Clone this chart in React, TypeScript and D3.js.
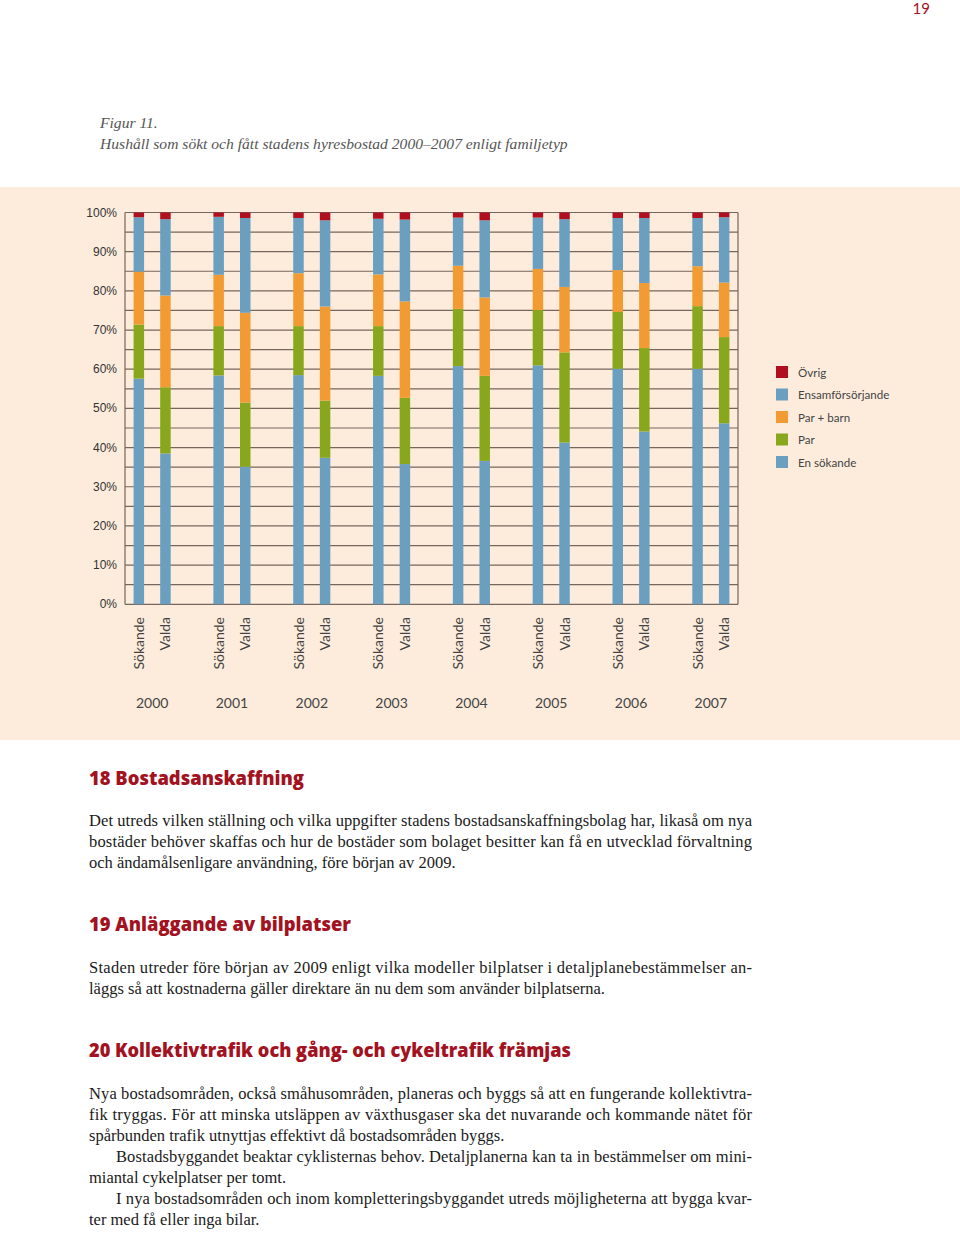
import React from 'react';
import * as d3 from 'd3';

// Data (per cent of households)
const years = ['2000', '2001', '2002', '2003', '2004', '2005', '2006', '2007'];
const groups = ['Sökande', 'Valda'];

// order per bar: 2000 Sökande, 2000 Valda, 2001 Sökande, ...
const enSokande = [57.6, 38.5, 58.4, 35.1, 58.5, 37.4, 58.3, 35.8, 60.8, 36.6, 61.0, 41.3, 60.1, 44.1, 60.1, 46.2];
const par = [13.8, 16.9, 12.6, 16.4, 12.5, 14.6, 12.7, 16.9, 14.6, 21.7, 14.1, 23.0, 14.5, 21.3, 16.0, 22.0];
const parBarn = [13.5, 23.4, 13.1, 22.9, 13.5, 24.0, 13.2, 24.6, 11.0, 20.0, 10.5, 16.7, 10.7, 16.6, 10.2, 13.9];
const ensam = [13.9, 19.5, 14.8, 24.2, 14.1, 22.0, 14.2, 20.9, 12.3, 19.7, 13.1, 17.3, 13.3, 16.6, 12.3, 16.7];
const ovrig = [1.2, 1.7, 1.1, 1.4, 1.4, 2.0, 1.6, 1.8, 1.3, 2.0, 1.3, 1.7, 1.4, 1.4, 1.4, 1.2];

const seriesKeys = ['enSokande', 'par', 'parBarn', 'ensam', 'ovrig'];
const seriesColors = ['#6b9fbf', '#88a71c', '#f29b32', '#6b9fbf', '#b00f1f'];

// legend, top to bottom
const legendLabels = ['Övrig', 'Ensamförsörjande', 'Par + barn', 'Par', 'En sökande'];
const legendColors = ['#b00f1f', '#6b9fbf', '#f29b32', '#88a71c', '#6b9fbf'];

const yTicks = [0, 10, 20, 30, 40, 50, 60, 70, 80, 90, 100];
const gridTicks = d3.range(0, 101, 5);

const RED = '#a3121f';
const serif = '"Liberation Serif", "Times New Roman", serif';
const sans = 'Lato, "Open Sans", sans-serif';

const rows = years.flatMap((yr, i) =>
    groups.map((g, j) => {
        const k = i * 2 + j;
        return {
            year: yr,
            group: g,
            enSokande: enSokande[k],
            par: par[k],
            parBarn: parBarn[k],
            ensam: ensam[k],
            ovrig: ovrig[k],
        };
    })
);

// body text, one entry per printed line
type Line = { text: string; justify: boolean; indent?: boolean };
const sections: { heading: string; headingWidth: number; lines: Line[] }[] = [
    {
        heading: '18 Bostadsanskaffning',
        headingWidth: 215,
        lines: [
            { text: 'Det utreds vilken ställning och vilka uppgifter stadens bostadsanskaffningsbolag har, likaså om nya', justify: true },
            { text: 'bostäder behöver skaffas och hur de bostäder som bolaget besitter kan få en utvecklad förvaltning', justify: true },
            { text: 'och ändamålsenligare användning, före början av 2009.', justify: false },
        ],
    },
    {
        heading: '19 Anläggande av bilplatser',
        headingWidth: 262,
        lines: [
            { text: 'Staden utreder före början av 2009 enligt vilka modeller bilplatser i detaljplanebestämmelser an-', justify: true },
            { text: 'läggs så att kostnaderna gäller direktare än nu dem som använder bilplatserna.', justify: false },
        ],
    },
    {
        heading: '20 Kollektivtrafik och gång- och cykeltrafik främjas',
        headingWidth: 482,
        lines: [
            { text: 'Nya bostadsområden, också småhusområden, planeras och byggs så att en fungerande kollektivtra-', justify: true },
            { text: 'fik tryggas. För att minska utsläppen av växthusgaser ska det nuvarande och kommande nätet för', justify: true },
            { text: 'spårbunden trafik utnyttjas effektivt då bostadsområden byggs.', justify: false },
            { text: 'Bostadsbyggandet beaktar cyklisternas behov. Detaljplanerna kan ta in bestämmelser om mini-', justify: true, indent: true },
            { text: 'miantal cykelplatser per tomt.', justify: false },
            { text: 'I nya bostadsområden och inom kompletteringsbyggandet utreds möjligheterna att bygga kvar-', justify: true, indent: true },
            { text: 'ter med få eller inga bilar.', justify: false },
        ],
    },
];
const headingY = [785, 931, 1057];
const bodyStartY = [826, 973, 1099];

export default function App() {
    const W = 960;
    const H = 1233;
    const plot = { left: 125, right: 738, top: 212.5, bottom: 604.3 };

    const x = d3.scalePoint<string>().domain(years).range([plot.left, plot.right]).padding(0.34);
    const xSub = d3.scalePoint<string>().domain(groups).range([-13.3, 13.3]);
    const y = d3.scaleLinear().domain([0, 100]).range([plot.bottom, plot.top]);
    const barW = 10.5;

    const stacked = d3.stack<any>().keys(seriesKeys)(rows);

    const textLeft = 89;
    const textRight = 752;
    const lineH = 21;

    return (
        <svg width={W} height={H} style={{ position: 'absolute', left: 0, top: 0, background: '#fff' }}>
            {/* page number */}
            <text x={930} y={14} textAnchor="end" fill={RED} fontFamily={sans} fontSize={15}>19</text>

            {/* caption */}
            <text x={100} y={128} fontFamily={serif} fontStyle="italic" fontSize={15.6} fill="#555">Figur 11.</text>
            <text x={100} y={149} fontFamily={serif} fontStyle="italic" fontSize={15.6} fill="#555">
                Hushåll som sökt och fått stadens hyresbostad 2000–2007 enligt familjetyp
            </text>

            {/* chart panel */}
            <rect x={0} y={187} width={W} height={553} fill="#fdecdc" />

            {/* grid */}
            {gridTicks.map(t => (
                <line key={t} x1={plot.left} x2={plot.right} y1={y(t)} y2={y(t)} stroke="#76675c" strokeWidth={1.2} />
            ))}
            <line x1={plot.left} x2={plot.left} y1={plot.top} y2={plot.bottom} stroke="#76675c" strokeWidth={1.2} />
            <line x1={plot.right} x2={plot.right} y1={plot.top} y2={plot.bottom} stroke="#76675c" strokeWidth={1.2} />

            {/* y labels */}
            {yTicks.map(t => (
                <text key={t} x={117} y={y(t) + 4} textAnchor="end" fontFamily='"Liberation Sans", Arial, sans-serif' fontSize={12} fill="#333">
                    {t}%
                </text>
            ))}

            {/* bars */}
            {stacked.map((s, si) => (
                <g key={s.key} fill={seriesColors[si]}>
                    {s.map((d, di) => (
                        <rect
                            key={di}
                            x={(x(d.data.year) as number) + (xSub(d.data.group) as number) - barW / 2}
                            y={y(d[1])}
                            width={barW}
                            height={y(d[0]) - y(d[1])}
                        />
                    ))}
                </g>
            ))}

            {/* category labels */}
            {rows.map((r, i) => {
                const cx = (x(r.year) as number) + (xSub(r.group) as number);
                return (
                    <text
                        key={i}
                        transform={`translate(${cx},617) rotate(-90)`}
                        textAnchor="end"
                        dy="0.36em"
                        fontFamily={sans}
                        fontSize={14}
                        fill="#444"
                    >
                        {r.group}
                    </text>
                );
            })}

            {/* year labels */}
            {years.map(yr => (
                <text key={yr} x={x(yr)} y={708} textAnchor="middle" fontFamily={sans} fontSize={14} fill="#444">
                    {yr}
                </text>
            ))}

            {/* legend */}
            {legendLabels.map((l, i) => (
                <g key={l} transform={`translate(776,${366 + i * 22.5})`}>
                    <rect width={12} height={12} fill={legendColors[i]} />
                    <text x={22} y={10.5} fontFamily={sans} fontSize={11.6} fill="#444">{l}</text>
                </g>
            ))}

            {/* text sections */}
            {sections.map((s, si) => (
                <g key={si}>
                    <text
                        x={textLeft}
                        y={headingY[si]}
                        fontFamily='"Open Sans", Lato, sans-serif'
                        fontWeight={800}
                        fontSize={19}
                        fill={RED}
                        textLength={s.headingWidth}
                        lengthAdjust="spacingAndGlyphs"
                    >
                        {s.heading}
                    </text>
                    {s.lines.map((ln, li) => {
                        const lx = ln.indent ? textLeft + 27 : textLeft;
                        return (
                            <text
                                key={li}
                                x={lx}
                                y={bodyStartY[si] + li * lineH}
                                fontFamily={serif}
                                fontSize={16.5}
                                fill="#1a1a1a"
                                {...(ln.justify ? { textLength: textRight - lx, lengthAdjust: 'spacing' } : {})}
                            >
                                {ln.text}
                            </text>
                        );
                    })}
                </g>
            ))}
        </svg>
    );
}
